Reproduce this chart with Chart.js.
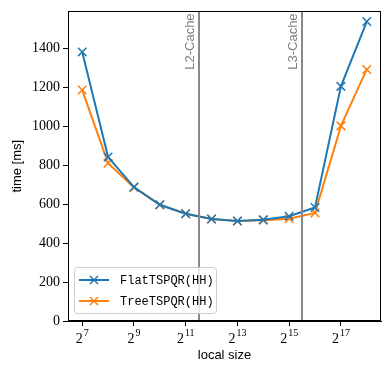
<!DOCTYPE html>
<html>
<head>
<meta charset="utf-8">
<script src="https://cdn.jsdelivr.net/npm/chart.js@4"></script>
<style>
  html, body { margin: 0; padding: 0; background: #fff; }
  #chart { display: block; }
</style>
</head>
<body>
<canvas id="chart" width="391" height="372"></canvas>
<script>
// local size as powers of two (exponents)
const sizeExp = [7, 8, 9, 10, 11, 12, 13, 14, 15, 16, 17, 18];
const flatTimes = [1382, 842, 688, 597, 551, 524, 514, 520, 538, 583, 1205, 1538];
const treeTimes = [1186, 810, 686, 597, 551, 524, 514, 518, 525, 555, 1002, 1292];
const xTickExp = [7, 9, 11, 13, 15, 17];
const yTicks = [0, 200, 400, 600, 800, 1000, 1200, 1400];
const cacheExp = [11.5, 15.5];
const cacheLabels = ['L2-Cache', 'L3-Cache'];
const seriesNames = ['FlatTSPQR(HH)', 'TreeTSPQR(HH)'];
const seriesColors = ['#1f77b4', '#ff7f0e'];

function toPoints(values) {
    return sizeExp.map((e, i) => ({ x: e, y: values[i] }));
}

// cache lines, 2^n tick labels, frame and legend
const extras = {
    id: 'extras',
    afterDatasetsDraw(chart) {
        const ctx = chart.ctx;
        const area = chart.chartArea;
        const xs = chart.scales.x;
        ctx.save();
        cacheExp.forEach((e, i) => {
            const px = Math.round(xs.getPixelForValue(e));
            ctx.strokeStyle = '#8a8a8a';
            ctx.lineWidth = 2;
            ctx.beginPath();
            ctx.moveTo(px, area.top);
            ctx.lineTo(px, area.bottom);
            ctx.stroke();
            ctx.save();
            ctx.translate(px - 2, area.top + 2);
            ctx.rotate(-Math.PI / 2);
            ctx.fillStyle = '#808080';
            ctx.font = '13px "Liberation Sans"';
            ctx.textAlign = 'right';
            ctx.textBaseline = 'bottom';
            ctx.fillText(cacheLabels[i], 0, 0);
            ctx.restore();
        });

        // x tick labels as 2^n
        ctx.fillStyle = '#000';
        ctx.textBaseline = 'alphabetic';
        ctx.textAlign = 'left';
        xTickExp.forEach(e => {
            const px = xs.getPixelForValue(e);
            const baseFont = '14px "Liberation Serif"';
            const expFont = '10px "Liberation Serif"';
            ctx.font = baseFont;
            const wb = ctx.measureText('2').width;
            ctx.font = expFont;
            const we = ctx.measureText(String(e)).width;
            const x0 = px - (wb + we + 1) / 2;
            ctx.font = baseFont;
            ctx.fillText('2', x0, area.bottom + 22);
            ctx.font = expFont;
            ctx.fillText(String(e), x0 + wb + 1, area.bottom + 15);
        });

        // legend
        const bx = 74, by = 267, bw = 142, bh = 46;
        ctx.fillStyle = 'rgba(255,255,255,0.8)';
        ctx.strokeStyle = '#cccccc';
        ctx.lineWidth = 1;
        ctx.beginPath();
        ctx.roundRect(bx + 0.5, by + 0.5, bw, bh, 3);
        ctx.fill();
        ctx.stroke();
        seriesNames.forEach((name, i) => {
            const ry = by + 13 + i * 21;
            ctx.strokeStyle = seriesColors[i];
            ctx.lineWidth = 2;
            ctx.beginPath();
            ctx.moveTo(79, ry);
            ctx.lineTo(109, ry);
            ctx.stroke();
            ctx.beginPath();
            ctx.moveTo(90, ry - 4); ctx.lineTo(98, ry + 4);
            ctx.moveTo(90, ry + 4); ctx.lineTo(98, ry - 4);
            ctx.lineWidth = 1.5;
            ctx.stroke();
            ctx.fillStyle = '#000';
            ctx.font = '12px "Liberation Mono"';
            ctx.textAlign = 'left';
            ctx.textBaseline = 'middle';
            ctx.fillText(name, 120, ry + 1);
        });

        // frame
        ctx.strokeStyle = '#000';
        ctx.lineWidth = 1;
        ctx.strokeRect(Math.round(area.left) + 0.5, Math.round(area.top) + 0.5,
            Math.round(area.right - area.left) - 1, Math.round(area.bottom - area.top) - 1);
        ctx.restore();
    }
};

new Chart(document.getElementById('chart'), {
    type: 'line',
    data: {
        datasets: [flatTimes, treeTimes].map((vals, i) => ({
            label: seriesNames[i],
            data: toPoints(vals),
            borderColor: seriesColors[i],
            backgroundColor: seriesColors[i],
            borderWidth: 2,
            pointStyle: 'crossRot',
            pointRadius: 6,
            pointBorderWidth: 1.5,
            tension: 0
        }))
    },
    options: {
        responsive: false,
        animation: false,
        layout: { padding: { top: 10, right: 10, left: 0, bottom: 0 } },
        plugins: {
            legend: { display: false },
            tooltip: { enabled: false }
        },
        scales: {
            x: {
                type: 'linear',
                min: 6.45,
                max: 18.55,
                afterBuildTicks: scale => { scale.ticks = xTickExp.map(v => ({ value: v })); },
                afterFit: scale => { scale.height = 51; },
                ticks: {
                    // drawn as 2^n by the extras plugin
                    callback: () => '',
                    maxRotation: 0
                },
                grid: { drawOnChartArea: false, tickLength: 5, color: '#000' },
                border: { color: '#000', width: 1 },
                title: {
                    display: true,
                    text: 'local size',
                    color: '#000',
                    font: { family: '"Liberation Sans"', size: 13 },
                    padding: { top: 0, bottom: 9 }
                }
            },
            y: {
                min: 0,
                max: 1590,
                afterBuildTicks: scale => { scale.ticks = yTicks.map(v => ({ value: v })); },
                afterFit: scale => { scale.width = 68; },
                ticks: {
                    callback: v => String(v),
                    color: '#000',
                    font: { family: '"Liberation Serif"', size: 14 },
                    padding: 3
                },
                grid: { drawOnChartArea: false, tickLength: 5, color: '#000' },
                border: { color: '#000', width: 1 },
                title: {
                    display: true,
                    text: 'time [ms]',
                    color: '#000',
                    font: { family: '"Liberation Sans"', size: 13 },
                    padding: { top: 10, bottom: 0 }
                }
            }
        }
    },
    plugins: [extras]
});
</script>
</body>
</html>
